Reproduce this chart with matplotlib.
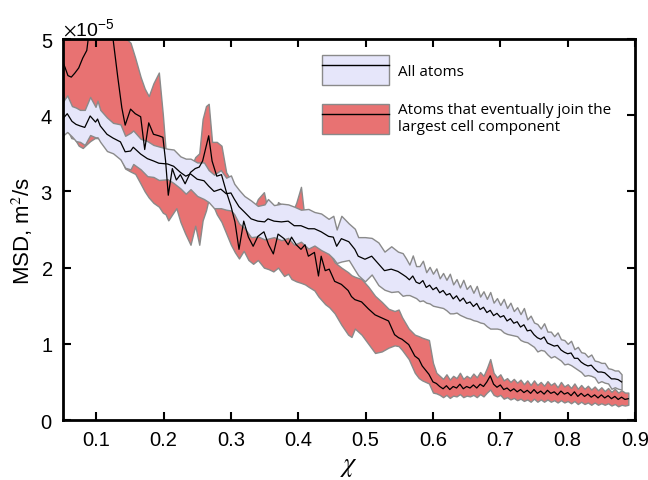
import numpy as np
import matplotlib
matplotlib.use("Agg")
import matplotlib.pyplot as plt
from matplotlib.patches import Patch
from matplotlib.lines import Line2D
from matplotlib.ticker import ScalarFormatter

# --- data, MSD in units of 1e-5 m^2/s ---

# all atoms
blue_x = [0.050, 0.057, 0.064, 0.070, 0.076, 0.083, 0.091, 0.099, 0.102, 0.106,
          0.116, 0.125, 0.136, 0.143, 0.151, 0.155, 0.166, 0.176, 0.185, 0.193,
          0.206, 0.215, 0.225, 0.233, 0.240, 0.250, 0.260, 0.267, 0.275, 0.285,
          0.293, 0.300, 0.305, 0.312, 0.320, 0.330, 0.340, 0.350, 0.355, 0.364,
          0.375, 0.385, 0.394, 0.404, 0.415, 0.424, 0.434, 0.445, 0.452, 0.457,
          0.464, 0.475, 0.484, 0.489, 0.499, 0.509, 0.519, 0.528, 0.538, 0.548,
          0.555,
          0.560, 0.565, 0.570, 0.575, 0.580, 0.585, 0.590, 0.595, 0.600, 0.605,
          0.610, 0.615, 0.620, 0.625, 0.630, 0.635, 0.640, 0.645, 0.650, 0.655,
          0.660, 0.665, 0.670, 0.675, 0.680, 0.685, 0.690, 0.695, 0.700, 0.705,
          0.710, 0.715, 0.720, 0.725, 0.730, 0.735, 0.740, 0.745, 0.750, 0.755,
          0.760, 0.765, 0.770, 0.775, 0.780, 0.785, 0.790, 0.795, 0.800, 0.805,
          0.810, 0.815, 0.820, 0.825, 0.830, 0.835, 0.840, 0.845, 0.850, 0.855,
          0.860, 0.865, 0.870, 0.875, 0.880]
blue_mean = [3.95, 4.02, 3.92, 3.88, 3.86, 3.84, 3.99, 3.91, 3.95, 3.86,
             3.75, 3.70, 3.65, 3.52, 3.53, 3.58, 3.49, 3.43, 3.40, 3.37,
             3.36, 3.33, 3.25, 3.20, 3.23, 3.16, 3.14, 3.07, 3.00, 3.03,
             2.97, 2.98, 2.90, 2.80, 2.73, 2.64, 2.61, 2.60, 2.64, 2.61,
             2.60, 2.61, 2.55, 2.55, 2.51, 2.51, 2.47, 2.41, 2.40, 2.28,
             2.38, 2.34, 2.24, 2.15, 2.11, 2.15, 2.05, 1.96, 1.98, 1.95,
             1.91,
             1.88, 1.84, 1.89, 1.81, 1.79, 1.83, 1.74, 1.77, 1.71, 1.74,
             1.67, 1.70, 1.64, 1.66, 1.59, 1.63, 1.56, 1.60, 1.53, 1.55,
             1.49, 1.53, 1.45, 1.48, 1.41, 1.44, 1.37, 1.40, 1.35, 1.37,
             1.30, 1.33, 1.27, 1.29, 1.22, 1.25, 1.17, 1.18, 1.12, 1.08,
             1.06, 1.09, 1.01, 0.99, 0.97, 0.98, 0.92, 0.89, 0.87, 0.88,
             0.81, 0.81, 0.76, 0.73, 0.71, 0.72, 0.67, 0.63, 0.63, 0.62,
             0.58, 0.54, 0.54, 0.53, 0.50]
blue_err = [0.22, 0.24, 0.20, 0.22, 0.21, 0.23, 0.25, 0.20, 0.24, 0.21,
            0.22, 0.20, 0.23, 0.21, 0.24, 0.22, 0.20, 0.23, 0.21, 0.22,
            0.20, 0.22, 0.21, 0.23, 0.20, 0.22, 0.24, 0.21, 0.22, 0.25,
            0.21, 0.23, 0.20, 0.22, 0.21, 0.24, 0.20, 0.23, 0.26, 0.21,
            0.24, 0.22, 0.25, 0.21, 0.26, 0.22, 0.24, 0.23, 0.28, 0.22,
            0.30, 0.24, 0.27, 0.25, 0.29, 0.24, 0.28, 0.25, 0.30, 0.26,
            0.28,
            0.24, 0.20, 0.27, 0.21, 0.23, 0.26, 0.20, 0.24, 0.21, 0.25,
            0.19, 0.23, 0.20, 0.26, 0.19, 0.22, 0.18, 0.24, 0.19, 0.22,
            0.18, 0.23, 0.17, 0.21, 0.18, 0.24, 0.17, 0.20, 0.16, 0.22,
            0.17, 0.21, 0.16, 0.19, 0.17, 0.22, 0.15, 0.19, 0.16, 0.18,
            0.14, 0.18, 0.15, 0.17, 0.13, 0.17, 0.14, 0.16, 0.13, 0.16,
            0.12, 0.15, 0.13, 0.15, 0.12, 0.14, 0.11, 0.14, 0.12, 0.13,
            0.10, 0.13, 0.11, 0.12, 0.10]

# atoms that eventually join the largest cell component
red_x = [0.050, 0.054, 0.058, 0.063, 0.068, 0.074, 0.080, 0.086, 0.091, 0.098,
         0.108, 0.118, 0.125, 0.132, 0.138, 0.143, 0.151, 0.158, 0.166, 0.172,
         0.178, 0.185, 0.193, 0.199, 0.203, 0.207, 0.213, 0.219, 0.225, 0.232,
         0.240, 0.247, 0.253, 0.258, 0.263, 0.267, 0.272, 0.279, 0.286, 0.293,
         0.300, 0.306, 0.312, 0.319, 0.326, 0.333, 0.340, 0.349, 0.356, 0.363,
         0.370, 0.379, 0.385, 0.390, 0.397, 0.404, 0.410, 0.415, 0.424, 0.430,
         0.434, 0.440, 0.446, 0.454, 0.464, 0.474, 0.479, 0.484, 0.494, 0.504,
         0.514, 0.524, 0.534, 0.543, 0.549, 0.554, 0.564, 0.573, 0.579, 0.584,
         0.594,
         0.600, 0.605, 0.610, 0.615, 0.620, 0.625, 0.630, 0.635, 0.640, 0.645,
         0.650, 0.655, 0.660, 0.665, 0.670, 0.675, 0.680, 0.685, 0.690, 0.695,
         0.700, 0.705, 0.710, 0.715, 0.720, 0.725, 0.730, 0.735, 0.740, 0.745,
         0.750, 0.755, 0.760, 0.765, 0.770, 0.775, 0.780, 0.785, 0.790, 0.795,
         0.800, 0.805, 0.810, 0.815, 0.820, 0.825, 0.830, 0.835, 0.840, 0.845,
         0.850, 0.855, 0.860, 0.865, 0.870, 0.875, 0.880, 0.885, 0.890]
red_mean = [4.71, 4.62, 4.52, 4.50, 4.55, 4.62, 4.75, 4.85, 5.20, 5.50,
            5.60, 5.40, 5.00, 4.50, 4.10, 3.87, 4.08, 4.02, 3.98, 3.55,
            3.90, 3.75, 3.73, 3.71, 3.40, 2.95, 3.30, 3.15, 3.22, 3.10,
            3.25, 3.30, 3.32, 3.40, 3.58, 3.73, 3.40, 3.20, 3.22, 3.00,
            2.81, 2.60, 2.24, 2.61, 2.40, 2.28, 2.41, 2.47, 2.30, 2.18,
            2.44, 2.38, 2.30, 2.40, 2.30, 2.24, 2.30, 2.15, 2.20, 1.89,
            2.15, 1.96, 1.98, 1.82, 1.78, 1.70, 1.62, 1.58, 1.55, 1.46,
            1.38, 1.34, 1.30, 1.12, 1.08, 1.06, 0.99, 0.84, 0.80, 0.71,
            0.60,
            0.50, 0.48, 0.44, 0.41, 0.45, 0.40, 0.44, 0.42, 0.47, 0.41,
            0.44, 0.42, 0.46, 0.42, 0.47, 0.44, 0.50, 0.58, 0.47, 0.43,
            0.46, 0.40, 0.42, 0.38, 0.41, 0.37, 0.40, 0.36, 0.39, 0.35,
            0.40, 0.35, 0.38, 0.34, 0.39, 0.35, 0.37, 0.33, 0.38, 0.34,
            0.36, 0.32, 0.37, 0.31, 0.35, 0.31, 0.34, 0.30, 0.33, 0.29,
            0.33, 0.29, 0.32, 0.28, 0.31, 0.27, 0.30, 0.27, 0.28]
red_lo = [4.37, 4.00, 3.80, 3.70, 3.69, 3.60, 3.57, 3.62, 3.66, 3.70,
          3.70, 3.65, 3.55, 3.49, 3.40, 3.30, 3.26, 3.23, 3.10, 3.00,
          2.92, 2.85, 2.80, 2.72, 2.70, 2.62, 2.70, 2.78, 2.60, 2.45,
          2.30, 2.55, 2.30, 2.62, 2.75, 2.90, 2.85, 2.70, 2.60, 2.45,
          2.30, 2.20, 2.12, 2.22, 2.10, 2.05, 2.10, 2.00, 1.98, 1.95,
          2.00, 1.89, 1.92, 1.85, 1.82, 1.80, 1.78, 1.75, 1.70, 1.62,
          1.58, 1.52, 1.48, 1.40, 1.25, 1.12, 1.09, 1.20, 1.12, 1.00,
          0.88, 0.90, 0.95, 0.98, 0.97, 0.92, 0.80, 0.62, 0.55, 0.52,
          0.48,
          0.36, 0.35, 0.33, 0.30, 0.33, 0.29, 0.32, 0.31, 0.34, 0.30,
          0.32, 0.31, 0.33, 0.30, 0.34, 0.31, 0.36, 0.40, 0.33, 0.31,
          0.33, 0.28, 0.30, 0.27, 0.29, 0.26, 0.28, 0.25, 0.27, 0.24,
          0.28, 0.24, 0.27, 0.24, 0.27, 0.24, 0.26, 0.23, 0.26, 0.23,
          0.25, 0.22, 0.25, 0.21, 0.24, 0.21, 0.23, 0.20, 0.23, 0.20,
          0.22, 0.20, 0.22, 0.19, 0.21, 0.18, 0.20, 0.19, 0.20]
red_hi = [5.40, 5.40, 5.40, 5.40, 5.40, 5.40, 5.40, 5.50, 5.60, 5.80,
          5.80, 5.70, 5.40, 5.20, 5.10, 5.02, 4.95, 4.75, 4.50, 4.35,
          4.25, 4.42, 4.56, 4.00, 3.55, 3.48, 3.50, 3.38, 3.30, 3.20,
          3.30, 3.45, 3.50, 3.95, 4.12, 4.15, 3.65, 3.65, 3.60, 3.25,
          3.15, 3.00, 2.80, 2.85, 2.80, 2.75, 2.90, 2.99, 2.70, 2.65,
          2.86, 2.80, 2.75, 2.70, 2.85, 3.06, 2.60, 2.74, 2.45, 2.40,
          2.34, 2.25, 2.20, 2.07, 2.00, 1.94, 1.90, 1.88, 1.85, 1.75,
          1.63, 1.55, 1.46, 1.43, 1.45, 1.35, 1.20, 1.12, 1.10, 1.08,
          1.05,
          0.75, 0.62, 0.58, 0.54, 0.60, 0.53, 0.58, 0.55, 0.62, 0.54,
          0.58, 0.55, 0.61, 0.56, 0.63, 0.58, 0.68, 0.80, 0.62, 0.56,
          0.60, 0.52, 0.55, 0.50, 0.54, 0.49, 0.53, 0.47, 0.52, 0.46,
          0.52, 0.46, 0.50, 0.45, 0.51, 0.46, 0.49, 0.43, 0.50, 0.44,
          0.47, 0.42, 0.48, 0.41, 0.46, 0.41, 0.45, 0.40, 0.44, 0.39,
          0.43, 0.38, 0.42, 0.37, 0.41, 0.36, 0.39, 0.36, 0.36]

labels = ["All atoms", "Atoms that eventually join the\nlargest cell component"]
x_ticks = [0.1, 0.2, 0.3, 0.4, 0.5, 0.6, 0.7, 0.8, 0.9]
y_ticks = [0, 1e-5, 2e-5, 3e-5, 4e-5, 5e-5]

scale = 1e-5
blue_fill = "#e6e6fa"
red_fill = "#e87272"
edge = "#8a8a8a"

plt.rcParams["font.family"] = ["Liberation Sans", "DejaVu Sans"]
plt.rcParams["mathtext.fontset"] = "stix"

fig = plt.figure(figsize=(6.48, 4.81), dpi=100)
ax = fig.add_axes([0.0965, 0.1247, 0.8835, 0.7921])

bx = np.array(blue_x)
bm = np.array(blue_mean) * scale
be = np.array(blue_err) * scale
rx = np.array(red_x)
rm = np.array(red_mean) * scale

ax.fill_between(rx, np.array(red_lo) * scale, np.array(red_hi) * scale,
                facecolor=red_fill, edgecolor=edge, lw=1.0, zorder=1)
ax.fill_between(bx, bm - be, bm + be,
                facecolor=blue_fill, edgecolor=edge, lw=1.0, zorder=2)
ax.plot(rx, rm, color="k", lw=0.9, zorder=3)
ax.plot(bx, bm, color="k", lw=0.9, zorder=3)

ax.set_xlim(0.05, 0.9)
ax.set_ylim(0, 5e-5)
ax.set_xticks(x_ticks)
ax.set_xticklabels([f"{t:g}" for t in x_ticks])
ax.set_yticks(y_ticks)

fmt = ScalarFormatter(useMathText=True)
fmt.set_powerlimits((0, 0))
ax.yaxis.set_major_formatter(fmt)
ax.yaxis.get_offset_text().set_fontsize(14)

ax.tick_params(direction="in", length=6, width=1.5, labelsize=14.5,
               top=True, right=True, pad=7)
for s in ax.spines.values():
    s.set_linewidth(2)

ax.set_xlabel(r"$\chi$", fontsize=19, labelpad=4)
ax.set_ylabel(r"MSD, m$^2$/s", fontsize=16, labelpad=4)

handles = [
    (Patch(facecolor=blue_fill, edgecolor=edge, lw=1.0), Line2D([], [], color="k", lw=1)),
    (Patch(facecolor=red_fill, edgecolor=edge, lw=1.0), Line2D([], [], color="k", lw=1)),
]
ax.legend(handles, labels, loc="upper left", bbox_to_anchor=(0.44, 0.978),
          frameon=False, handlelength=4.4, handleheight=2.65, handletextpad=0.55,
          labelspacing=1.1, borderpad=0, prop={"family": "Open Sans", "size": 11})

fig.savefig("out.png", dpi=100)
